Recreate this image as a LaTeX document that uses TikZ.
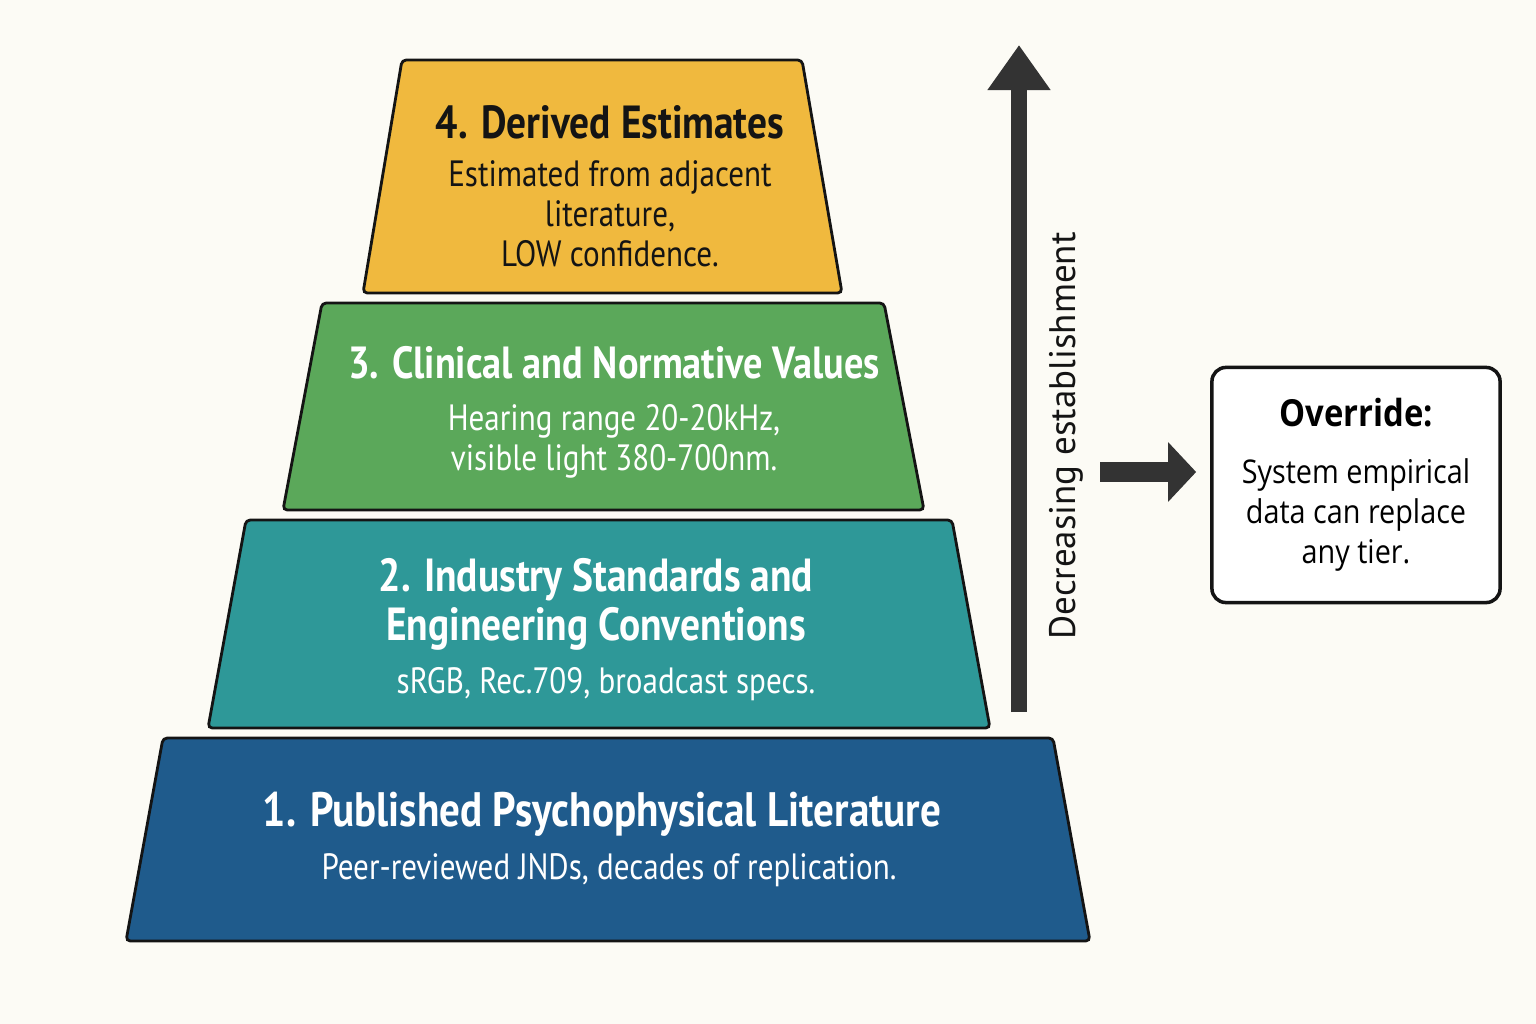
\documentclass[tikz,border=0pt]{standalone}
\usepackage{fontspec}
\setmainfont{PT Sans}
\newfontfamily\tierfont[FakeStretch=0.85]{PT Sans}
\newfontfamily\boxfont[FakeStretch=0.88]{Open Sans}
\usepackage{xcolor}
\usetikzlibrary{arrows.meta,positioning}

\definecolor{bgcream}{HTML}{FCFBF5}
\definecolor{tieryellow}{HTML}{F0B93E}
\definecolor{tiergreen}{HTML}{5BA85A}
\definecolor{tierteal}{HTML}{2E9898}
\definecolor{tierblue}{HTML}{1F5B8C}
\definecolor{arrowgray}{HTML}{333333}
\definecolor{inkdark}{HTML}{141414}

\begin{document}
\begin{tikzpicture}[
    x=0.01cm, y=-0.01cm,
    tier/.style={draw=inkdark, line width=0.8pt, rounded corners=1.2pt},
    tiertitle/.style={font=\tierfont\bfseries\fontsize{13.2}{14}\selectfont,
                      align=center, inner sep=0pt},
    tierdesc/.style={font=\tierfont\fontsize{10.4}{11.4}\selectfont,
                     align=center, inner sep=0pt},
    overbox/.style={draw=inkdark, line width=1pt, rounded corners=0.14cm, fill=white,
                    minimum width=2.88cm, minimum height=2.35cm, align=center,
                    font=\boxfont\fontsize{9.3}{11.4}\selectfont},
    bigarrow/.style={draw=arrowgray, line width=0.16cm,
                     -{Triangle[width=0.6cm,length=0.45cm]}}
]
\fill[bgcream] (0,0) rectangle (1536,1024);
\useasboundingbox (0,0) rectangle (1536,1024);

% pyramid tiers, bottom to top
\draw[tier, fill=tierblue]   (163,738) -- (1053,738) -- (1090,941) -- (126,941) -- cycle;
\draw[tier, fill=tierteal]   (246,520) -- (952,520) -- (990,728) -- (208,728) -- cycle;
\draw[tier, fill=tiergreen]  (322,303) -- (884,303) -- (924,510) -- (283,510) -- cycle;
\draw[tier, fill=tieryellow] (402,60) -- (802,60) -- (842,293) -- (363,293) -- cycle;

\node[tiertitle, text=white, font=\tierfont\bfseries\fontsize{13.75}{15}\selectfont]
     (t1) at (602,814) {1. Published Psychophysical Literature};
\node[tierdesc,  text=white, below=1.6mm of t1, xshift=0.07cm] (d1) {Peer-reviewed JNDs, decades of replication.};

\node[tiertitle, text=white] (t2) at (596,604) {2. Industry Standards and\\Engineering Conventions};
\node[tierdesc,  text=white, below=1.6mm of t2, xshift=0.1cm] (d2) {sRGB, Rec.709, broadcast specs.};

\node[tiertitle, text=white, font=\tierfont\bfseries\fontsize{12.8}{14}\selectfont]
     (t3) at (614,363) {3. Clinical and Normative Values};
\node[tierdesc,  text=white, below=2.4mm of t3] (d3) {Hearing range 20-20kHz,\\visible light 380-700nm.};

\node[tiertitle, text=inkdark] (t4) at (610,122) {4. Derived Estimates};
\node[tierdesc,  text=inkdark, below=2mm of t4] (d4) {Estimated from adjacent\\literature,\\LOW confidence.};

% establishment axis
\coordinate (axisbot) at (1019,712);
\coordinate (axistop) at (1019,45);
\draw[bigarrow] (axisbot) -- (axistop);
\node[rotate=90, font=\fontsize{10.5}{12}\selectfont, text=inkdark] (axislabel)
     at (1066,436) {Decreasing establishment};

% override box
\node[overbox] (override) at (1356,485)
     {{\bfseries\fontsize{10.6}{13}\selectfont Override:}\\[1.7mm]
      System empirical\\data can replace\\any tier.};
\coordinate (hstart) at (1100,472);
\draw[draw=arrowgray, line width=0.2cm, -{Triangle[width=0.58cm,length=0.28cm]},
      shorten >=0.14cm] (hstart) -- (hstart -| override.west);
\end{tikzpicture}
\end{document}
